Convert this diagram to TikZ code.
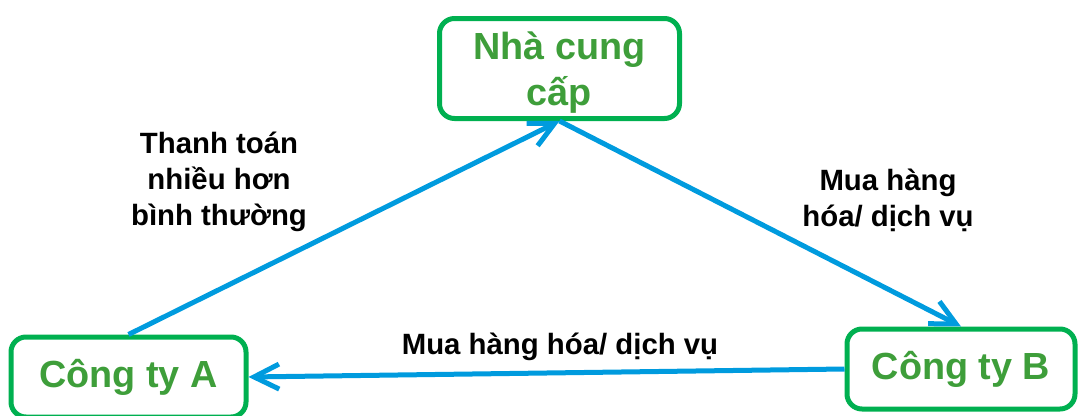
\documentclass[tikz,border=0pt]{standalone}
\usepackage{fontspec}
\setmainfont{Liberation Sans}
\usetikzlibrary{arrows.meta}
\definecolor{boxgreen}{RGB}{0,176,80}
\definecolor{txtgreen}{RGB}{62,158,58}
\definecolor{flowblue}{RGB}{0,155,222}
\tikzset{>={Straight Barb[length=0.5cm,width=0.5cm]}}
\tikzset{
	box/.style={draw=boxgreen,line width=0.1cm,rounded corners=0.3cm,text=txtgreen,font=\bfseries\fontsize{21.5}{26.5}\selectfont,align=center,inner sep=0pt},
	lbl/.style={font=\bfseries\fontsize{16.7}{20.4}\selectfont,align=center},
	flow/.style={->,draw=flowblue,line width=0.1cm}
}

\begin{document}
\begin{tikzpicture}
	\useasboundingbox (0,0) rectangle (21.58,8.3);
	% the three parties
	\node[box,minimum width=4.8cm,minimum height=2cm,text depth=0pt] (ncc) at(11.19,6.93) {Nhà cung\\cấp};
	\node[box,minimum width=4.7cm,minimum height=1.6cm] (cta) at(2.57,0.76) {Công ty A};
	\node[box,minimum width=4.56cm,minimum height=1.6cm] (ctb) at(19.22,0.92) {Công ty B};
	% labels
	\node[lbl] (tt) at(4.38,4.66) {Thanh toán\\nhiều hơn\\bình thường};
	\node[lbl] (mh1) at(17.76,4.3) {Mua hàng\\hóa/ dịch vụ};
	\node[lbl] (mh2) at(11.2,1.36) {Mua hàng hóa/ dịch vụ};
	% flows
	\draw[flow](cta.north)--(ncc.south);
	\draw[flow](ncc.south)--(ctb.north);
	\draw[flow](ctb.west)--(cta.east);
\end{tikzpicture}
\end{document}
